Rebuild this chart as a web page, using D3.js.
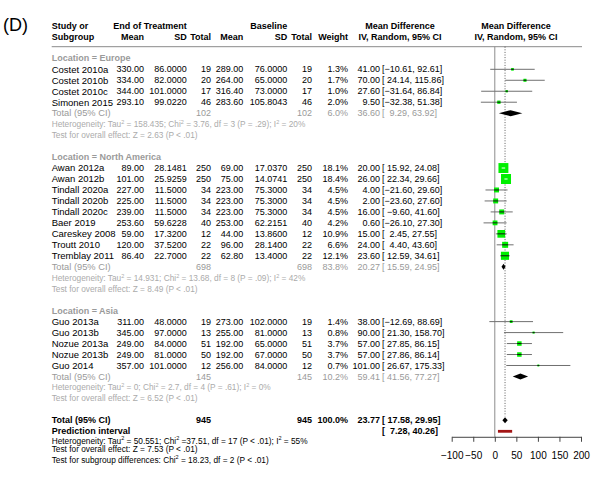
<!DOCTYPE html>
<html>
<head>
<meta charset="utf-8">
<script src="https://cdn.jsdelivr.net/npm/d3@7"></script>
<style>
  body { margin: 0; background: #fff; }
  svg { font-family: "Liberation Sans", Arial, Helvetica, sans-serif; }
  text { white-space: pre; }
</style>
</head>
<body>
<div id="chart"></div>
<script>
// study level data
var studies = ['Costet 2010a', 'Costet 2010b', 'Costet 2010c', 'Simonen 2015',
  'Awan 2012a', 'Awan 2012b', 'Tindall 2020a', 'Tindall 2020b', 'Tindall 2020c', 'Baer 2019',
  'Careskey 2008', 'Troutt 2010', 'Tremblay 2011',
  'Guo 2013a', 'Guo 2013b', 'Nozue 2013a', 'Nozue 2013b', 'Guo 2014'];
var studyGroup = [0, 0, 0, 0, 1, 1, 1, 1, 1, 1, 1, 1, 1, 2, 2, 2, 2, 2];
var meanE = [330.00, 334.00, 344.00, 293.10, 89.00, 101.00, 227.00, 225.00, 239.00, 253.60, 59.00, 120.00, 86.40, 311.00, 345.00, 249.00, 249.00, 357.00];
var sdE = [86.0000, 82.0000, 101.0000, 99.0220, 28.1481, 25.9259, 11.5000, 11.5000, 11.5000, 59.6228, 17.3200, 37.5200, 22.7000, 48.0000, 97.0000, 84.0000, 81.0000, 101.0000];
var nE = [19, 20, 17, 46, 250, 250, 34, 34, 34, 40, 12, 22, 22, 19, 13, 51, 50, 12];
var meanC = [289.00, 264.00, 316.40, 283.60, 69.00, 75.00, 223.00, 223.00, 223.00, 253.00, 44.00, 96.00, 62.80, 273.00, 255.00, 192.00, 192.00, 256.00];
var sdC = [76.0000, 65.0000, 73.0000, 105.8043, 17.0370, 14.0741, 75.3000, 75.3000, 75.3000, 62.2151, 13.8600, 28.1400, 13.4000, 102.0000, 81.0000, 65.0000, 67.0000, 84.0000];
var nC = [19, 20, 17, 46, 250, 250, 34, 34, 34, 40, 12, 22, 22, 19, 13, 51, 50, 12];
var weights = [1.3, 1.7, 1.0, 2.0, 18.1, 18.4, 4.5, 4.5, 4.5, 4.2, 10.9, 6.6, 12.1, 1.4, 0.8, 3.7, 3.7, 0.7];
var md = [41.00, 70.00, 27.60, 9.50, 20.00, 26.00, 4.00, 2.00, 16.00, 0.60, 15.00, 24.00, 23.60, 38.00, 90.00, 57.00, 57.00, 101.00];
var lower = [-10.61, 24.14, -31.64, -32.38, 15.92, 22.34, -21.60, -23.60, -9.60, -26.10, 2.45, 4.40, 12.59, -12.69, 21.30, 27.85, 27.86, 26.67];
var upper = [92.61, 115.86, 86.84, 51.38, 24.08, 29.66, 29.60, 27.60, 41.60, 27.30, 27.55, 43.60, 34.61, 88.69, 158.70, 86.15, 86.14, 175.33];

// subgroup summaries
var groupNames = ['Europe', 'North America', 'Asia'];
var groupN = [102, 698, 145];
var groupWeight = [6.0, 83.8, 10.2];
var groupMd = [36.60, 20.27, 59.41];
var groupLower = [9.29, 15.59, 41.56];
var groupUpper = [63.92, 24.95, 77.27];
var groupTau2 = ['158.435', '14.931', '0'];
var groupChi2 = ['3.76', '13.68', '2.7'];
var groupDf = ['3', '8', '4'];
var groupP = ['= .29', '= .09', '= .61'];
var groupI2 = ['20%', '42%', '0%'];
var groupZ = ['2.63', '8.49', '6.52'];

// overall
var totalN = 945;
var totalMd = 23.77, totalLower = 17.58, totalUpper = 29.95;
var predLower = 7.28, predUpper = 40.26;

var xTicks = [-100, -50, 0, 50, 100, 150, 200];

var svg = d3.select('#chart').append('svg').attr('width', 600).attr('height', 485);

var x = d3.scaleLinear().domain([-100, 200]).range([451.7, 581]);
var y = d3.scaleLinear().domain([0, 1]).range([69.3, 80.27]); // row index -> pixel
var side = d3.scaleSqrt().domain([0, 18.4]).range([0, 10]);

var GRAY = '#9a9a9a', LIGHT = '#ababab';

// column positions for the text table
var cName = 51.7, cMeanE = 144, cSdE = 186.7, cNE = 211, cMeanC = 243.3, cSdC = 287.3, cNC = 312, cW = 348, cMd = 380, cCi = 382;

function fmt(v, d) {
  return (v < 0 ? '\u2212' : '') + Math.abs(v).toFixed(d);
}
function ciText(lo, hi) {
  var s = fmt(lo, 2);
  while (s.length < 6) s = ' ' + s;
  return '[' + s + ', ' + fmt(hi, 2) + ']';
}
function txt(xp, row, str, opt) {
  opt = opt || {};
  return svg.append('text')
    .attr('x', xp).attr('y', y(row)).attr('dy', '0.35em')
    .attr('text-anchor', opt.anchor || 'end')
    .attr('font-size', opt.size || 9)
    .attr('font-weight', opt.bold ? 'bold' : null)
    .attr('fill', opt.color || '#000')
    .text(str);
}
// text with superscript "2" parts: parts = [[text, sup?], ...]
function supText(xp, row, parts, color) {
  var t = svg.append('text').attr('x', xp).attr('y', y(row) + 3)
    .attr('font-size', 8.3).attr('fill', color);
  var up = false;
  parts.forEach(function(p) {
    var ts = t.append('tspan').text(p[0]);
    if (p[1]) {
      ts.attr('font-size', 5.5).attr('dy', -3.2);
      up = true;
    } else if (up) {
      ts.attr('dy', 3.2);
      up = false;
    }
  });
  return t;
}
function hetParts(tau, chi, df, p, i2) {
  return [['Heterogeneity: Tau'], ['2', true], [' = ' + tau + '; Chi'], ['2', true],
    [' = ' + chi + ', df = ' + df + ' (P ' + p + '); I'], ['2', true], [' = ' + i2]];
}

// header
svg.append('text').attr('x', 3).attr('y', 31).attr('font-size', 18).text('(D)');
var hdr = { bold: true, size: 9 };
txt(cName, -4, 'Study or', { anchor: 'start', bold: true });
txt(cName, -3, 'Subgroup', { anchor: 'start', bold: true });
txt(cSdE, -4, 'End of Treatment', hdr);
txt(cSdC, -4, 'Baseline', hdr);
txt(cMeanE, -3, 'Mean', hdr);
txt(cSdE, -3, 'SD', hdr);
txt(cNE, -3, 'Total', hdr);
txt(cMeanC, -3, 'Mean', hdr);
txt(cSdC, -3, 'SD', hdr);
txt(cNC, -3, 'Total', hdr);
txt(cW, -3, 'Weight', hdr);
txt(400, -4, 'Mean Difference', { anchor: 'middle', bold: true });
txt(400, -3, 'IV, Random, 95% CI', { anchor: 'middle', bold: true });
txt(516, -4, 'Mean Difference', { anchor: 'middle', bold: true });
txt(516, -3, 'IV, Random, 95% CI', { anchor: 'middle', bold: true });

svg.append('line').attr('x1', 51.7).attr('x2', 582).attr('y1', 46.7).attr('y2', 46.7)
  .attr('stroke', '#8a8a8a').attr('stroke-width', 1);

var axisY = y(33.5);

// reference lines
svg.append('line').attr('x1', x(0)).attr('x2', x(0)).attr('y1', 46.7).attr('y2', axisY)
  .attr('stroke', '#8c8c8c').attr('stroke-width', 1);
svg.append('line').attr('x1', x(totalMd)).attr('x2', x(totalMd)).attr('y1', 46.7).attr('y2', y(32) - 4)
  .attr('stroke', '#333').attr('stroke-width', 0.8).attr('stroke-dasharray', '1,1.6');

function diamond(row, m, lo, hi) {
  var yc = y(row), h = 3;
  svg.append('path')
    .attr('d', 'M' + x(lo) + ',' + yc + 'L' + x(m) + ',' + (yc - h) + 'L' + x(hi) + ',' + yc + 'L' + x(m) + ',' + (yc + h) + 'Z')
    .attr('fill', '#000');
}

// rows
var row = -1;
groupNames.forEach(function(g, gi) {
  txt(cName, row, 'Location = ' + g, { anchor: 'start', bold: true, color: GRAY });
  row++;
  studies.forEach(function(s, i) {
    if (studyGroup[i] !== gi) return;
    txt(cName, row, s, { anchor: 'start', size: 9.5 });
    txt(cMeanE, row, meanE[i].toFixed(2));
    txt(cSdE, row, sdE[i].toFixed(4));
    txt(cNE, row, nE[i]);
    txt(cMeanC, row, meanC[i].toFixed(2));
    txt(cSdC, row, sdC[i].toFixed(4));
    txt(cNC, row, nC[i]);
    txt(cW, row, weights[i].toFixed(1) + '%');
    txt(cMd, row, fmt(md[i], 2));
    txt(cCi, row, ciText(lower[i], upper[i]), { anchor: 'start' });

    var yc = y(row), cx = x(md[i]), sz = side(weights[i]);
    var x0 = x(lower[i]), x1 = x(upper[i]);
    svg.append('line').attr('x1', x0).attr('x2', x1).attr('y1', yc).attr('y2', yc)
      .attr('stroke', '#707070').attr('stroke-width', 1);
    svg.append('rect').attr('x', cx - sz / 2).attr('y', yc - sz / 2).attr('width', sz).attr('height', sz)
      .attr('fill', '#00f000');
    var inside = x0 >= cx - sz / 2 && x1 <= cx + sz / 2;
    svg.append('line')
      .attr('x1', Math.max(x0, cx - sz / 2)).attr('x2', Math.min(x1, cx + sz / 2))
      .attr('y1', yc).attr('y2', yc)
      .attr('stroke', inside ? '#fff' : '#111').attr('stroke-width', 1);
    row++;
  });
  txt(cName, row, 'Total (95% CI)', { anchor: 'start', color: GRAY, size: 9.3 });
  txt(cNE, row, groupN[gi], { color: GRAY });
  txt(cNC, row, groupN[gi], { color: GRAY });
  txt(cW, row, groupWeight[gi].toFixed(1) + '%', { color: GRAY });
  txt(cMd, row, fmt(groupMd[gi], 2), { color: GRAY });
  txt(cCi, row, ciText(groupLower[gi], groupUpper[gi]), { anchor: 'start', color: GRAY });
  diamond(row, groupMd[gi], groupLower[gi], groupUpper[gi]);
  supText(cName, row + 1, hetParts(groupTau2[gi], groupChi2[gi], groupDf[gi], groupP[gi], groupI2[gi]), LIGHT);
  svg.append('text').attr('x', cName).attr('y', y(row + 2) + 3)
    .attr('font-size', 8.3).attr('fill', LIGHT)
    .text('Test for overall effect: Z = ' + groupZ[gi] + ' (P < .01)');
  row += 4;
});

// overall
var tb = { bold: true };
txt(cName, row, 'Total (95% CI)', { anchor: 'start', bold: true });
txt(cNE, row, totalN, tb);
txt(cNC, row, totalN, tb);
txt(cW, row, '100.0%', tb);
txt(cMd, row, fmt(totalMd, 2), tb);
txt(cCi, row, ciText(totalLower, totalUpper), { anchor: 'start', bold: true });
diamond(row, totalMd, totalLower, totalUpper);

txt(cName, row + 1, 'Prediction interval', { anchor: 'start', bold: true });
txt(cCi, row + 1, ciText(predLower, predUpper), { anchor: 'start', bold: true });
svg.append('rect').attr('x', x(predLower)).attr('y', y(row + 1) - 1.4)
  .attr('width', x(predUpper) - x(predLower)).attr('height', 2.8).attr('fill', '#a31515');

supText(cName, row + 1.85, [['Heterogeneity: Tau'], ['2', true], [' = 50.551; Chi'], ['2', true],
  [' =37.51, df = 17 (P < .01); I'], ['2', true], [' = 55%']], '#000');
svg.append('text').attr('x', cName).attr('y', y(row + 2.63) + 3)
  .attr('font-size', 8.3).text('Test for overall effect: Z = 7.53 (P < .01)');
supText(cName, row + 3.57, [['Test for subgroup differences: Chi'], ['2', true], [' = 18.23, df = 2 (P < .01)']], '#000');

// x axis
var axis = svg.append('g').attr('transform', 'translate(0,' + axisY + ')')
  .call(d3.axisBottom(x).tickValues(xTicks).tickSize(5).tickSizeOuter(0).tickPadding(10));
axis.select('.domain').attr('stroke', '#444');
axis.selectAll('.tick line').attr('stroke', '#444');
axis.selectAll('.tick text').attr('font-size', 10).attr('font-family', '"Liberation Sans", Arial, sans-serif').attr('fill', '#000');
</script>
</body>
</html>
